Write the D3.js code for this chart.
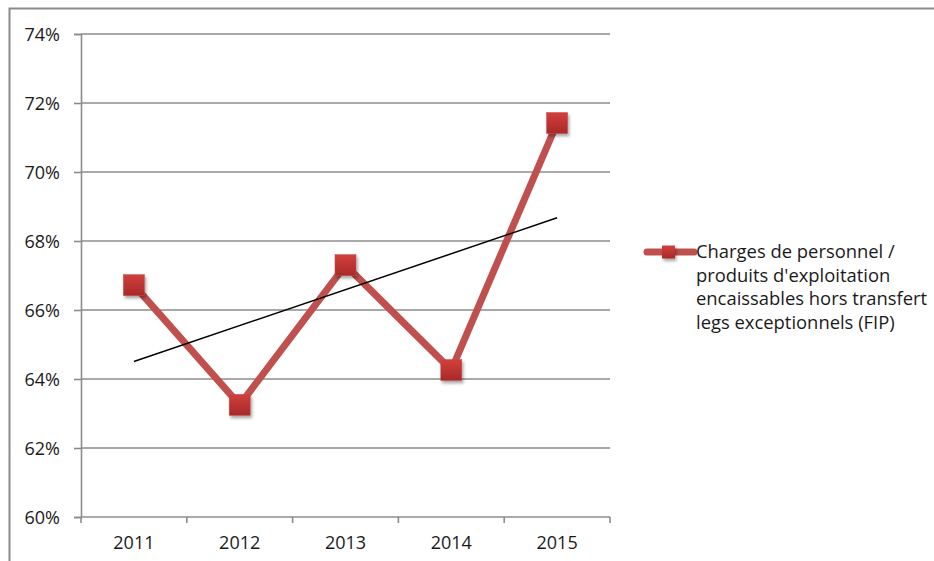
<!DOCTYPE html>
<html>
<head>
<meta charset="utf-8">
<script src="https://cdn.jsdelivr.net/npm/d3@7"></script>
<style>
  html, body { margin: 0; padding: 0; background: #fff; }
  svg { display: block; }
  text { font-family: "Open Sans", "Liberation Sans", sans-serif; fill: #1a1a1a; }
</style>
</head>
<body>
<svg id="chart" width="934" height="561"></svg>
<script>
// Ratio of staff costs to cash operating income, by year
const years = ["2011", "2012", "2013", "2014", "2015"];
const ratios = [0.6672, 0.6325, 0.6730, 0.6426, 0.7142];
const yTicks = [0.60, 0.62, 0.64, 0.66, 0.68, 0.70, 0.72, 0.74];
const seriesName = ["Charges de personnel /", "produits d'exploitation", "encaissables hors transfert", "legs exceptionnels (FIP)"];

const svg = d3.select("#chart");
const W = 934, H = 561;
const plot = { left: 81, right: 610, top: 34, bottom: 517 };
const lineColor = "#c0504d";
const gridColor = "#8c8c8c";
const fontSize = 18;

// Outer chart frame
svg.append("rect")
  .attr("x", 9.5).attr("y", 8.5)
  .attr("width", W + 20).attr("height", H + 20)
  .attr("fill", "none").attr("stroke", "#8a8a8a").attr("stroke-width", 2);

const x = d3.scaleBand().domain(years).range([plot.left, plot.right]);
const y = d3.scaleLinear().domain([0.60, 0.74]).range([plot.bottom, plot.top]);

const defs = svg.append("defs");
const grad = defs.append("linearGradient").attr("id", "mk").attr("x1", 0).attr("y1", 0).attr("x2", 0).attr("y2", 1);
grad.append("stop").attr("offset", "0%").attr("stop-color", "#d23f3b");
grad.append("stop").attr("offset", "100%").attr("stop-color", "#a8292a");
const shadow = defs.append("filter").attr("id", "sh").attr("x", "-50%").attr("y", "-50%").attr("width", "200%").attr("height", "200%");
shadow.append("feDropShadow").attr("dx", 1.5).attr("dy", 2.5).attr("stdDeviation", 1.6)
  .attr("flood-color", "#000").attr("flood-opacity", 0.35);

// Horizontal gridlines
svg.append("g")
  .selectAll("line").data(yTicks.slice(1)).join("line")
  .attr("x1", plot.left).attr("x2", plot.right)
  .attr("y1", d => y(d)).attr("y2", d => y(d))
  .attr("stroke", gridColor).attr("stroke-width", 1.6);

// Y axis
const yAxis = svg.append("g").attr("transform", `translate(${plot.left},0)`)
  .call(d3.axisLeft(y).tickValues(yTicks).tickFormat(d3.format(".0%")).tickSize(7).tickPadding(14));
yAxis.select(".domain").attr("stroke", gridColor).attr("stroke-width", 1.6);
yAxis.selectAll(".tick line").attr("stroke", gridColor).attr("stroke-width", 1.6);
yAxis.selectAll(".tick text").attr("font-size", fontSize).attr("fill", "#1a1a1a")
  .attr("font-family", "'Open Sans', sans-serif").attr("dy", "0.35em");

// X axis with tick marks between categories
const xAxisG = svg.append("g").attr("transform", `translate(0,${plot.bottom})`);
xAxisG.append("line").attr("x1", plot.left).attr("x2", plot.right)
  .attr("stroke", gridColor).attr("stroke-width", 1.6);
const boundaries = years.map(d => x(d)).concat([x(years[years.length - 1]) + x.bandwidth()]);
xAxisG.selectAll("line.tk").data(boundaries).join("line").attr("class", "tk")
  .attr("x1", d => d).attr("x2", d => d).attr("y1", 0).attr("y2", 6)
  .attr("stroke", gridColor).attr("stroke-width", 1.6);
xAxisG.selectAll("text").data(years).join("text")
  .attr("x", d => x(d) + x.bandwidth() / 2).attr("y", 32)
  .attr("text-anchor", "middle").attr("font-size", fontSize).text(d => d);

const cx = d => x(d) + x.bandwidth() / 2;
const pts = years.map((d, i) => [cx(d), y(ratios[i])]);

// Data line
svg.append("path")
  .attr("d", d3.line()(pts))
  .attr("fill", "none").attr("stroke", lineColor).attr("stroke-width", 7)
  .attr("stroke-linejoin", "miter");

// Markers
const mk = 21;
svg.append("g").selectAll("rect").data(pts).join("rect")
  .attr("x", d => d[0] - mk / 2).attr("y", d => d[1] - mk / 2)
  .attr("width", mk).attr("height", mk)
  .attr("fill", "url(#mk)").attr("stroke", "#c0504d").attr("stroke-width", 0.5)
  .attr("filter", "url(#sh)");

// Linear trendline (least squares over category index)
const n = ratios.length;
const idx = d3.range(1, n + 1);
const mx = d3.mean(idx), my = d3.mean(ratios);
const slope = d3.sum(idx, (v, i) => (v - mx) * (ratios[i] - my)) / d3.sum(idx, v => (v - mx) ** 2);
const icpt = my - slope * mx;
svg.append("line")
  .attr("x1", cx(years[0])).attr("y1", y(icpt + slope * 1))
  .attr("x2", cx(years[n - 1])).attr("y2", y(icpt + slope * n))
  .attr("stroke", "#000").attr("stroke-width", 1.5);

// Legend
const lg = svg.append("g").attr("transform", "translate(647,252)");
lg.append("line").attr("x1", 0).attr("x2", 47).attr("y1", 0).attr("y2", 0)
  .attr("stroke", lineColor).attr("stroke-width", 7).attr("stroke-linecap", "round");
lg.append("rect").attr("x", 15).attr("y", -6.5).attr("width", 13).attr("height", 13)
  .attr("fill", "url(#mk)").attr("filter", "url(#sh)");
lg.selectAll("text").data(seriesName).join("text")
  .attr("x", 49).attr("y", (d, i) => 6 + i * 23.5)
  .attr("font-size", 18.4).text(d => d);
</script>
</body>
</html>
